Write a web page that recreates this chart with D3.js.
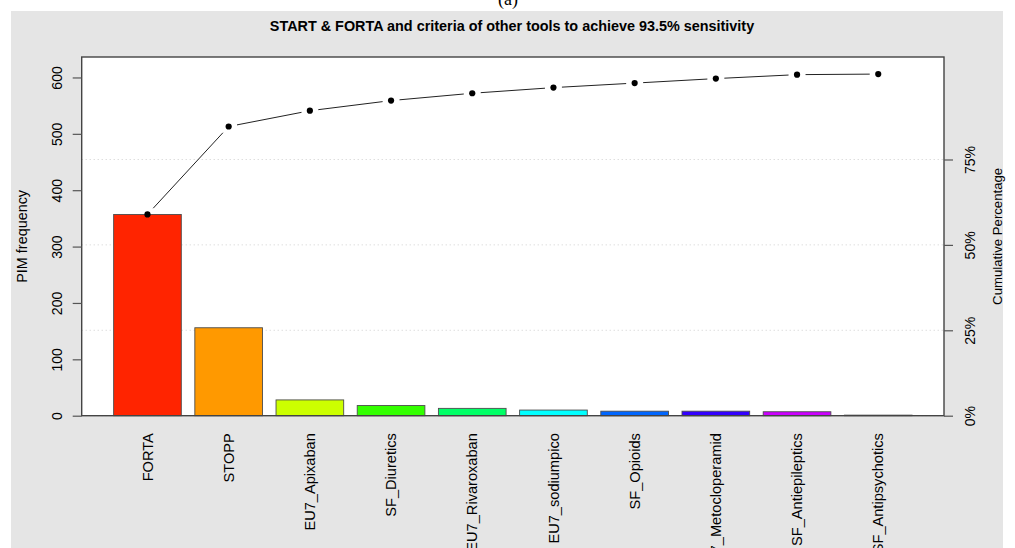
<!DOCTYPE html>
<html>
<head>
<meta charset="utf-8">
<script src="https://cdn.jsdelivr.net/npm/d3@7"></script>
<style>
  html, body { margin: 0; padding: 0; background: #ffffff; }
  svg { display: block; font-family: "Liberation Sans", Arial, Helvetica, sans-serif; }
</style>
</head>
<body>
<svg id="chart" width="1015" height="548"></svg>
<script>
// Pareto chart: PIM frequency by criterion, with cumulative percentage line
const categories = [
  "FORTA", "STOPP", "EU7_Apixaban", "SF_Diuretics", "EU7_Rivaroxaban",
  "EU7_sodiumpico", "SF_Opioids", "EU7_Metocloperamid", "SF_Antiepileptics", "SF_Antipsychotics"
];
const frequencies = [357, 156, 28, 18, 13, 10, 8, 8, 7, 1];
const barColors = [
  "#FF2400", "#FF9900", "#CCFF00", "#33FF00", "#00FF66",
  "#00FFFF", "#0066FF", "#3300FF", "#CC00FF", "#FF0099"
];
const freqTicks = [0, 100, 200, 300, 400, 500, 600];
const pctTicks = [0, 25, 50, 75];
const pctTickLabels = ["0%", "25%", "50%", "75%"];
const titleText = "START & FORTA and criteria of other tools to achieve 93.5% sensitivity";

const svg = d3.select("#chart");
const W = 1015, H = 548;

// panel background
svg.append("rect").attr("x", 11).attr("y", 11).attr("width", 992).attr("height", H - 11)
  .attr("fill", "#e5e5e5");

// panel tag above the panel
svg.append("text").attr("x", 508).attr("y", 5)
  .attr("text-anchor", "middle")
  .style("font-family", "'Liberation Serif', 'Times New Roman', serif")
  .style("font-size", "18px").attr("fill", "#000")
  .text("(a)");

const plot = { left: 81.7, right: 944, top: 57, bottom: 415.7 };

const total = d3.sum(frequencies);
const cumulative = d3.cumsum(frequencies);

const x = d3.scaleBand()
  .domain(categories)
  .range([plot.left, plot.right])
  .paddingInner(1 / 6)
  .paddingOuter(0.3933);

const y = d3.scaleLinear()
  .domain([0, total * 1.05])
  .range([plot.bottom, plot.top]);

const yPct = d3.scaleLinear()
  .domain([0, 100])
  .range([y(0), y(total)]);

// plot area
svg.append("rect")
  .attr("x", plot.left).attr("y", plot.top)
  .attr("width", plot.right - plot.left).attr("height", plot.bottom - plot.top)
  .attr("fill", "#ffffff");

// dotted reference lines at the cumulative percentage ticks
svg.append("g").selectAll("line")
  .data(pctTicks)
  .join("line")
  .attr("x1", plot.left).attr("x2", plot.right)
  .attr("y1", d => yPct(d)).attr("y2", d => yPct(d))
  .attr("stroke", "#cfcfcf").attr("stroke-width", 1)
  .attr("stroke-dasharray", "1,3");

// bars
svg.append("g").selectAll("rect")
  .data(categories)
  .join("rect")
  .attr("x", d => x(d))
  .attr("y", (d, i) => y(frequencies[i]))
  .attr("width", x.bandwidth())
  .attr("height", (d, i) => y(0) - y(frequencies[i]))
  .attr("fill", (d, i) => barColors[i])
  .attr("stroke", "#4d4d4d").attr("stroke-width", 0.9);

// cumulative line: segments stop short of each point
const pts = categories.map((c, i) => [x(c) + x.bandwidth() / 2, y(cumulative[i])]);
const gap = 8.5;
const segs = d3.pairs(pts).map(([a, b]) => {
  const dx = b[0] - a[0], dy = b[1] - a[1];
  const len = Math.hypot(dx, dy);
  const ux = dx / len, uy = dy / len;
  return [[a[0] + ux * gap, a[1] + uy * gap], [b[0] - ux * gap, b[1] - uy * gap]];
});
svg.append("g").selectAll("path")
  .data(segs)
  .join("path")
  .attr("d", d => d3.line()(d))
  .attr("stroke", "#222").attr("stroke-width", 1).attr("fill", "none");

svg.append("g").selectAll("circle")
  .data(pts)
  .join("circle")
  .attr("cx", d => d[0]).attr("cy", d => d[1])
  .attr("r", 3.1).attr("fill", "#000");

// plot border
svg.append("rect")
  .attr("x", plot.left).attr("y", plot.top)
  .attr("width", plot.right - plot.left).attr("height", plot.bottom - plot.top)
  .attr("fill", "none").attr("stroke", "#444").attr("stroke-width", 1.4);

// left axis
const yAxis = svg.append("g")
  .attr("transform", `translate(${plot.left},0)`)
  .call(d3.axisLeft(y).tickValues(freqTicks).tickSize(9).tickSizeOuter(0));
yAxis.select(".domain").remove();
yAxis.selectAll(".tick line").attr("stroke", "#555").attr("stroke-width", 1.2);
yAxis.selectAll(".tick text")
  .attr("x", null).attr("dy", null)
  .attr("transform", "translate(-19.7,0) rotate(-90)")
  .attr("text-anchor", "middle")
  .attr("fill", "#000")
  .style("font-size", "14px");

// right axis
const pAxis = svg.append("g")
  .attr("transform", `translate(${plot.right},0)`)
  .call(d3.axisRight(yPct).tickValues(pctTicks).tickSize(9).tickSizeOuter(0)
    .tickFormat((d, i) => pctTickLabels[i]));
pAxis.select(".domain").remove();
pAxis.selectAll(".tick line").attr("stroke", "#555").attr("stroke-width", 1.2);
pAxis.selectAll(".tick text")
  .attr("x", null).attr("dy", null)
  .attr("transform", "translate(31,0) rotate(-90)")
  .attr("text-anchor", "middle")
  .attr("fill", "#000")
  .style("font-size", "14px");

// category labels, vertical
const xAxis = svg.append("g")
  .attr("transform", `translate(0,${plot.bottom})`)
  .call(d3.axisBottom(x).tickSize(0));
xAxis.select(".domain").remove();
xAxis.selectAll(".tick text")
  .attr("y", null).attr("dy", null)
  .attr("transform", "translate(5.2,17.5) rotate(-90)")
  .attr("text-anchor", "end")
  .attr("fill", "#000")
  .style("font-size", "14.6px");

// axis titles
svg.append("text")
  .attr("transform", `translate(26.5,${(plot.top + plot.bottom) / 2}) rotate(-90)`)
  .attr("text-anchor", "middle")
  .style("font-size", "14.4px").attr("fill", "#000")
  .text("PIM frequency");

svg.append("text")
  .attr("transform", `translate(1002,${(plot.top + plot.bottom) / 2}) rotate(-90)`)
  .attr("text-anchor", "middle")
  .style("font-size", "13.2px").attr("fill", "#000")
  .text("Cumulative Percentage");

// title
svg.append("text")
  .attr("x", 512).attr("y", 30.5)
  .attr("text-anchor", "middle")
  .style("font-size", "14.4px").style("font-weight", "bold").attr("fill", "#000")
  .text(titleText);
</script>
</body>
</html>
